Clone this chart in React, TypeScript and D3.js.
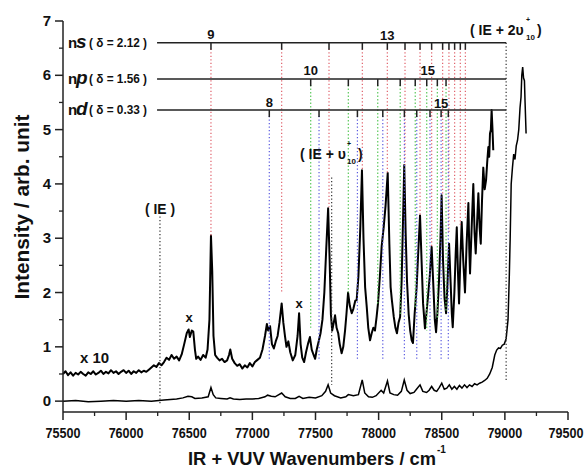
import React from "react";
import * as d3 from "d3";

// ---------- data ----------
const xMajorTicks = [75500, 76000, 76500, 77000, 77500, 78000, 78500, 79000, 79500];
const yMajorTicks = [0, 1, 2, 3, 4, 5, 6, 7];

// x10 trace (wavenumber, intensity)
const upperWn = [75500,75520,75540,75560,75580,75600,75620,75640,75660,75680,75700,75720,75740,75760,75780,75800,75820,75840,75860,75880,75900,75920,75940,75960,75980,76000,76020,76040,76060,76080,76100,76120,76140,76160,76180,76200,76220,76240,76260,76280,76300,76320,76340,76360,76380,76400,76420,76440,76460,76480,76495,76505,76520,76532,76545,76555,76570,76590,76610,76630,76645,76660,76672,76682,76692,76705,76720,76740,76760,76780,76800,76815,76825,76840,76860,76880,76900,76920,76940,76960,76980,77000,77020,77040,77060,77080,77100,77115,77125,77140,77155,77170,77185,77200,77215,77232,77245,77258,77270,77285,77300,77320,77340,77358,77370,77382,77395,77410,77425,77440,77456,77470,77485,77497,77510,77525,77540,77555,77570,77585,77600,77612,77622,77632,77645,77655,77667,77680,77692,77707,77720,77734,77745,77758,77772,77787,77800,77815,77826,77840,77855,77868,77880,77893,77906,77918,77932,77945,77958,77971,77984,77995,78010,78024,78040,78055,78072,78085,78095,78105,78120,78133,78145,78158,78170,78182,78193,78203,78214,78225,78238,78250,78262,78272,78285,78301,78315,78328,78340,78352,78367,78378,78390,78405,78420,78432,78445,78455,78465,78478,78490,78499,78510,78522,78534,78546,78558,78570,78580,78587,78600,78610,78619,78628,78637,78647,78658,78670,78684,78697,78711,78718,78724,78737,78750,78760,78769,78780,78790,78800,78809,78819,78829,78840,78851,78860,78869,78876,78882,78889,78895,78902,78908];
const upperVal = [0.50,0.55,0.48,0.53,0.47,0.52,0.49,0.54,0.50,0.47,0.53,0.50,0.55,0.49,0.52,0.56,0.50,0.54,0.51,0.57,0.52,0.55,0.50,0.54,0.57,0.52,0.56,0.50,0.55,0.52,0.57,0.53,0.56,0.54,0.58,0.62,0.66,0.63,0.70,0.66,0.72,0.80,0.76,0.85,0.78,0.82,0.75,0.86,1.05,1.25,1.32,1.18,1.30,1.28,0.95,0.78,0.82,0.76,0.85,0.80,0.95,1.50,3.05,2.40,1.20,0.85,0.80,0.75,0.78,0.72,0.75,0.85,0.95,0.78,0.70,0.65,0.68,0.60,0.66,0.62,0.70,0.64,0.72,0.76,0.80,0.95,1.20,1.42,1.30,1.38,1.05,0.97,1.10,1.20,1.45,1.80,1.45,1.20,1.00,1.10,0.90,0.75,0.85,1.20,1.62,1.05,0.80,0.72,0.90,1.05,1.18,0.95,0.85,0.78,0.95,1.10,1.25,1.50,2.00,2.80,3.55,2.60,1.60,1.30,1.45,1.58,1.35,1.25,1.05,0.88,1.00,1.30,1.60,2.00,1.75,1.62,1.70,1.85,1.86,2.30,3.20,4.25,3.00,2.10,1.73,1.35,1.12,1.25,1.35,1.30,1.55,1.80,2.30,2.85,3.20,3.60,4.20,2.90,2.10,1.86,1.55,1.35,1.25,1.45,1.55,2.20,3.30,4.35,3.10,2.20,1.60,1.30,1.12,1.07,1.60,2.10,2.80,3.42,2.60,1.80,1.34,1.60,1.90,2.30,2.84,2.20,1.50,1.27,1.60,2.20,3.00,3.79,2.60,1.90,1.62,2.20,2.90,2.20,1.60,1.36,2.00,2.70,3.20,2.40,1.80,2.60,3.30,2.60,2.00,2.90,3.65,2.80,2.35,3.20,4.00,3.10,2.72,3.30,3.83,3.20,2.90,3.70,4.30,3.90,4.07,4.40,4.68,4.50,4.93,5.00,5.36,5.00,4.62];

// x1 trace
const lowerWn = [75500,75600,75700,75800,75900,76000,76100,76200,76300,76400,76450,76490,76520,76545,76600,76650,76672,76690,76710,76750,76800,76823,76850,76900,76950,77000,77050,77100,77120,77150,77180,77232,77260,77300,77340,77370,77400,77450,77500,77550,77580,77600,77620,77650,77700,77740,77760,77800,77840,77870,77890,77920,77950,77980,78020,78040,78070,78090,78120,78150,78180,78203,78225,78250,78280,78300,78328,78350,78380,78400,78420,78440,78460,78480,78500,78520,78540,78560,78580,78600,78620,78640,78660,78680,78700,78720,78740,78760,78780,78800,78820,78840,78860,78880,78900,78920,78935,78950,78965,78980,78995,79010,79025,79035,79042,79050,79060,79070,79080,79090,79100,79110,79120,79128,79134,79141,79148,79155,79160,79168];
const lowerVal = [0.00,0.01,-0.01,0.00,0.01,0.00,0.01,0.00,0.02,0.04,0.06,0.09,0.08,0.05,0.06,0.08,0.25,0.12,0.06,0.05,0.04,0.06,0.04,0.03,0.04,0.04,0.05,0.08,0.11,0.09,0.08,0.15,0.08,0.05,0.05,0.09,0.05,0.07,0.06,0.10,0.18,0.30,0.15,0.10,0.06,0.08,0.12,0.10,0.12,0.39,0.15,0.08,0.07,0.10,0.20,0.15,0.37,0.15,0.12,0.11,0.18,0.39,0.20,0.14,0.16,0.22,0.30,0.18,0.16,0.20,0.27,0.20,0.18,0.25,0.33,0.22,0.24,0.30,0.22,0.27,0.22,0.29,0.24,0.30,0.25,0.30,0.27,0.32,0.30,0.33,0.35,0.38,0.42,0.50,0.62,0.85,0.94,0.98,0.97,1.03,1.05,1.15,1.50,2.30,3.00,4.00,4.30,4.55,4.45,4.70,4.80,5.00,5.40,5.60,6.00,6.15,5.95,5.90,5.50,4.93];

// Rydberg series positions
const nsTicks = [76672, 77232, 77607, 77871, 78069, 78209, 78328, 78420, 78507, 78557, 78602, 78647, 78687];
const nsEnds = [3.05, 2.0, 3.57, 4.25, 4.2, 4.35, 3.42, 2.84, 3.79, 3.1, 3.3, 3.2, 3.33];
const npTicks = [77462, 77760, 77993, 78171, 78290, 78381, 78465, 78534];
const npEnds = [1.35, 2.0, 1.8, 1.6, 1.7, 1.3, 1.5, 1.65];
const ndTicks = [77134, 77528, 77832, 78033, 78204, 78302, 78407, 78495, 78552];
const ndEnd = 0.75;

const seriesLevels = [6.6, 5.93, 5.36];
const seriesStart = 76245;
const seriesStop = 79010;

const ieLines = [
  { wn: 76268, top: 3.4, bottom: -0.05 },
  { wn: 77628, top: 4.12, bottom: 0.3 },
  { wn: 79010, top: 6.6, bottom: 0.39 },
];

// ---------- layout ----------
const W = 587, H = 469;
const FONT = "'Liberation Sans', Arial, sans-serif";

export default function App() {
  const x = d3.scaleLinear().domain([75500, 79500]).range([63, 568]);
  const y = d3.scaleLinear().domain([-0.2, 7]).range([412, 21]);

  const line = d3.line<[number, number]>().x(d => x(d[0])).y(d => y(d[1]));
  const upperPath = line(upperWn.map((w, i) => [w, upperVal[i]]))!;
  const lowerPath = line(lowerWn.map((w, i) => [w, lowerVal[i]]))!;

  const xMinor = d3.range(75750, 79500, 500);
  const yMinor = d3.range(0.5, 7, 1);

  const RED = "#e0606a", GREEN = "#5cc95c", BLUE = "#5a5ae0";
  const dash = "1.3 2.2";

  const rowLabel = (yv: number, letter: string, delta: string) => {
    const yy = y(yv) + 5;
    return (
      <g key={letter} fontFamily={FONT} fontWeight="bold" fill="#111">
        <text x={68} y={yy} fontSize={15}>n</text>
        <text x={76} y={yy} fontSize={19} fontStyle="italic">{letter}</text>
        <text x={89} y={yy - 1} fontSize={13} textLength={58} lengthAdjust="spacingAndGlyphs">{`( δ = ${delta} )`}</text>
      </g>
    );
  };

  return (
    <svg width={W} height={H} style={{ display: "block", position: "absolute", left: 0, top: 0, background: "#fff" }}>
      {/* traces */}
      <path d={lowerPath} fill="none" stroke="#000" strokeWidth={1.5} />
      <path d={upperPath} fill="none" stroke="#000" strokeWidth={2} strokeLinejoin="round" />

      {/* dotted series lines */}
      {nsTicks.map((w, i) => (
        <line key={"nsd" + i} x1={x(w)} x2={x(w)} y1={y(seriesLevels[0]) + 6} y2={y(nsEnds[i])} stroke={RED} strokeWidth={1.2} strokeDasharray={dash} />
      ))}
      {npTicks.map((w, i) => (
        <line key={"npd" + i} x1={x(w)} x2={x(w)} y1={y(seriesLevels[1]) + 6} y2={y(npEnds[i])} stroke={GREEN} strokeWidth={1.2} strokeDasharray={dash} />
      ))}
      {ndTicks.map((w, i) => (
        <line key={"ndd" + i} x1={x(w)} x2={x(w)} y1={y(seriesLevels[2]) + 6} y2={y(ndEnd)} stroke={BLUE} strokeWidth={1.2} strokeDasharray={dash} />
      ))}
      {ieLines.map((l, i) => (
        <line key={"ie" + i} x1={x(l.wn)} x2={x(l.wn)} y1={y(l.top)} y2={y(l.bottom)} stroke="#333" strokeWidth={1.2} strokeDasharray={dash} />
      ))}

      {/* series horizontal lines and ticks */}
      {seriesLevels.map((lv, i) => (
        <line key={"lv" + i} x1={x(seriesStart)} x2={x(seriesStop)} y1={y(lv)} y2={y(lv)} stroke="#222" strokeWidth={1.5} />
      ))}
      {[nsTicks, npTicks, ndTicks].map((arr, j) =>
        arr.map((w, i) => (
          <line key={`t${j}-${i}`} x1={x(w)} x2={x(w)} y1={y(seriesLevels[j])} y2={y(seriesLevels[j]) + 7} stroke="#222" strokeWidth={1.5} />
        ))
      )}

      {/* series n labels */}
      <g fontFamily={FONT} fontWeight="bold" fontSize={13} textAnchor="middle" fill="#111">
        <text x={x(nsTicks[0])} y={y(seriesLevels[0]) - 4}>9</text>
        <text x={x(nsTicks[4])} y={y(seriesLevels[0]) - 3}>13</text>
        <text x={x(npTicks[0])} y={y(seriesLevels[1]) - 4}>10</text>
        <text x={x(npTicks[5]) + 1} y={y(seriesLevels[1]) - 4}>15</text>
        <text x={x(ndTicks[0])} y={y(seriesLevels[2]) - 3}>8</text>
        <text x={x(ndTicks[7])} y={y(seriesLevels[2]) - 2}>15</text>
      </g>

      {rowLabel(seriesLevels[0], "s", "2.12")}
      {rowLabel(seriesLevels[1], "p", "1.56")}
      {rowLabel(seriesLevels[2], "d", "0.33")}

      {/* annotations */}
      <g fontFamily={FONT} fontWeight="bold" fill="#111">
        <text x={160} y={214} fontSize={15} textAnchor="middle" textLength={30} lengthAdjust="spacingAndGlyphs">( IE )</text>
        <text x={300} y={159} fontSize={14}>( IE + υ</text>
        <text x={347} y={146} fontSize={7}>+</text>
        <text x={347} y={164} fontSize={8}>10</text>
        <text x={358} y={159} fontSize={14}>)</text>
        <text x={470} y={35} fontSize={14}>( IE + 2υ</text>
        <text x={526} y={22} fontSize={7}>+</text>
        <text x={526} y={40} fontSize={8}>10</text>
        <text x={537} y={35} fontSize={14}>)</text>
        <text x={189} y={322} fontSize={13} textAnchor="middle">x</text>
        <text x={299} y={308} fontSize={13} textAnchor="middle">x</text>
        <text x={80} y={363} fontSize={15}>x 10</text>
      </g>

      {/* axes */}
      <line x1={63} x2={63} y1={21} y2={412} stroke="#222" strokeWidth={1.5} />
      <line x1={63} x2={568} y1={412} y2={412} stroke="#222" strokeWidth={1.5} />
      {yMajorTicks.map(v => (
        <g key={"ym" + v}>
          <line x1={55} x2={63} y1={y(v)} y2={y(v)} stroke="#222" strokeWidth={1.5} />
          <text x={51} y={y(v) + 5} fontFamily={FONT} fontWeight="bold" fontSize={15} textAnchor="end" fill="#111">{v}</text>
        </g>
      ))}
      {yMinor.map(v => (
        <line key={"yn" + v} x1={59} x2={63} y1={y(v)} y2={y(v)} stroke="#222" strokeWidth={1.3} />
      ))}
      {xMajorTicks.map((v, i) => (
        <g key={"xm" + v}>
          <line x1={x(v)} x2={x(v)} y1={412} y2={420} stroke="#222" strokeWidth={1.5} />
          <text x={i === xMajorTicks.length - 1 ? x(v) - 2 : x(v)} y={438} fontFamily={FONT} fontWeight="bold" fontSize={14} textAnchor="middle" textLength={35} lengthAdjust="spacingAndGlyphs" fill="#111">{v}</text>
        </g>
      ))}
      {xMinor.map(v => (
        <line key={"xn" + v} x1={x(v)} x2={x(v)} y1={412} y2={416} stroke="#222" strokeWidth={1.3} />
      ))}

      {/* axis titles */}
      <text x={188} y={465} fontFamily={FONT} fontWeight="bold" fontSize={19} fill="#111">
        <tspan textLength={248} lengthAdjust="spacingAndGlyphs">IR + VUV Wavenumbers / cm</tspan>
        <tspan dx={1} dy={-12} fontSize={10}>-1</tspan>
      </text>
      <text transform="translate(29,207) rotate(-90)" fontFamily={FONT} fontWeight="bold" fontSize={20} textAnchor="middle" textLength={185} lengthAdjust="spacingAndGlyphs" fill="#111">Intensity / arb. unit</text>
    </svg>
  );
}
